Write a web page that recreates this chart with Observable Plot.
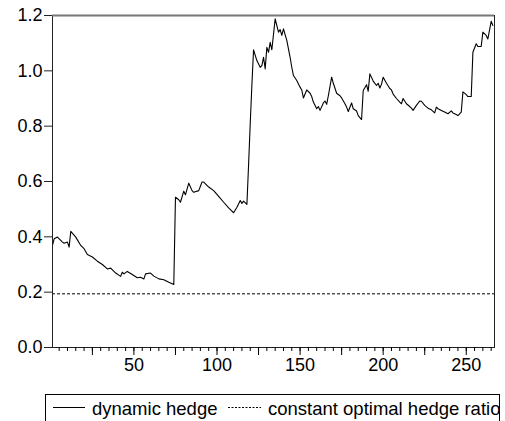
<!DOCTYPE html>
<html><head><meta charset="utf-8">
<script src="https://cdn.jsdelivr.net/npm/d3@7"></script>
<script src="https://cdn.jsdelivr.net/npm/@observablehq/plot@0.6"></script>
<style>
body{margin:0;background:#fff;}
#wrap{position:relative;width:505px;height:421px;overflow:hidden;font-family:"Liberation Sans",Arial,sans-serif;}
#legend{position:absolute;left:45px;top:394px;width:453px;height:40px;border:1px solid #000;overflow:hidden;background:#fff;}
</style>
</head><body>
<div id="wrap"><div id="chart"></div><div id="legend"></div></div>
<script>
const obs = [1,2,4,7,8,10,11,12,15,18,20,22,25,28,31,34,36,39,42,43,44,46,49,52,54,56,57,60,62,65,68,71,74,
  75,77,78,80,81,83,85,86,89,91,92,95,98,101,104,107,109,110,112,114,115,116,118,119,120,121,122,124,126,127,128,129,130,131,132,133,135,137,138,139,140,142,144,145,146,148,150,151,152,154,156,157,158,160,161,162,164,165,166,167,169,170,172,174,175,177,178,179,181,182,184,185,187,188,190,191,192,194,196,197,198,199,200,202,204,205,206,208,210,211,212,214,216,217,218,220,222,223,225,227,229,231,232,233,235,237,239,241,242,244,245,247,248,250,251,253,254,256,257,259,260,262,263,265,266];
const hedge = [0.369,0.393,0.399,0.381,0.377,0.381,0.363,0.420,0.399,0.369,0.357,0.336,0.327,0.312,0.300,0.284,0.287,0.269,0.257,0.272,0.266,0.275,0.264,0.252,0.254,0.248,0.266,0.269,0.258,0.248,0.245,0.236,0.228,
  0.543,0.534,0.525,0.565,0.552,0.594,0.567,0.561,0.567,0.598,0.598,0.580,0.567,0.546,0.525,0.505,0.493,0.487,0.507,0.531,0.521,0.529,0.517,0.66,0.81,0.95,1.076,1.037,1.013,1.019,1.049,1.007,1.085,1.067,1.103,1.076,1.188,1.140,1.149,1.128,1.152,1.110,1.049,1.013,0.983,0.965,0.941,0.931,0.902,0.931,0.919,0.907,0.887,0.863,0.871,0.857,0.884,0.891,0.879,0.910,0.977,0.955,0.919,0.910,0.902,0.881,0.869,0.853,0.884,0.863,0.855,0.838,0.824,0.929,0.950,0.926,0.989,0.963,0.947,0.955,0.938,0.952,0.977,0.955,0.936,0.931,0.916,0.900,0.887,0.881,0.900,0.881,0.871,0.865,0.857,0.875,0.891,0.890,0.875,0.865,0.859,0.848,0.869,0.863,0.857,0.851,0.845,0.855,0.848,0.842,0.838,0.851,0.924,0.914,0.907,0.907,1.067,1.098,1.088,1.088,1.140,1.128,1.115,1.179,1.164];
const constantRatio = 0.194;
const yTicks = [0, 0.2, 0.4, 0.6, 0.8, 1.0, 1.2];
const xLabels = [50, 100, 150, 200, 250];
const xMinor = d3.range(5, 266, 5);
const xMajor = d3.range(25, 266, 25);
const seriesNames = ["dynamic hedge", "constant optimal hedge ratio"];

const data = obs.map((o, i) => ({obs: o, v: hedge[i]}));

const chart = Plot.plot({
  width: 505,
  height: 388,
  marginLeft: 52,
  marginRight: 11,
  marginTop: 15,
  marginBottom: 41,
  style: {fontFamily: '"Liberation Sans", Arial, sans-serif', fontSize: "18px", color: "#000", background: "#fff"},
  x: {domain: [1, 267]},
  y: {domain: [0, 1.2]},
  marks: [
    Plot.ruleY([constantRatio], {stroke: "#000", strokeWidth: 1, strokeDasharray: "3,2"}),
    Plot.line(data, {x: "obs", y: "v", stroke: "#000", strokeWidth: 1.1}),
    Plot.frame({stroke: "#222", strokeWidth: 1}),
    Plot.ruleY([1.2], {stroke: "#777", strokeWidth: 2}),
    Plot.axisY({ticks: yTicks, tickFormat: d3.format(".1f"), tickSize: 8, tickPadding: 2, stroke: "#222", strokeOpacity: 1, fontSize: 18, label: null}),
    Plot.axisX({ticks: xMinor, tickSize: 4, tickFormat: () => "", stroke: "#000", strokeOpacity: 1, label: null}),
    Plot.axisX({ticks: xMajor, tickSize: 8, tickFormat: () => "", stroke: "#000", strokeOpacity: 1, label: null}),
    Plot.axisX({ticks: xLabels, tickSize: 0, tickPadding: 11, fontSize: 18, label: null})
  ]
});
document.getElementById("chart").appendChild(chart);

// legend
const lg = d3.select("#legend").append("svg").attr("width", 453).attr("height", 30)
  .style("font-family", '"Liberation Sans", Arial, sans-serif').style("font-size", "18.5px");
lg.append("line").attr("x1", 7).attr("x2", 39).attr("y1", 12.5).attr("y2", 12.5).attr("stroke", "#000");
lg.append("text").attr("x", 46).attr("y", 20).attr("fill", "#000").text(seriesNames[0]);
lg.append("line").attr("x1", 182).attr("x2", 215).attr("y1", 12.5).attr("y2", 12.5).attr("stroke", "#000").attr("stroke-dasharray", "2,1.5");
lg.append("text").attr("x", 222).attr("y", 20).attr("fill", "#000").text(seriesNames[1]);
</script>
</body></html>
